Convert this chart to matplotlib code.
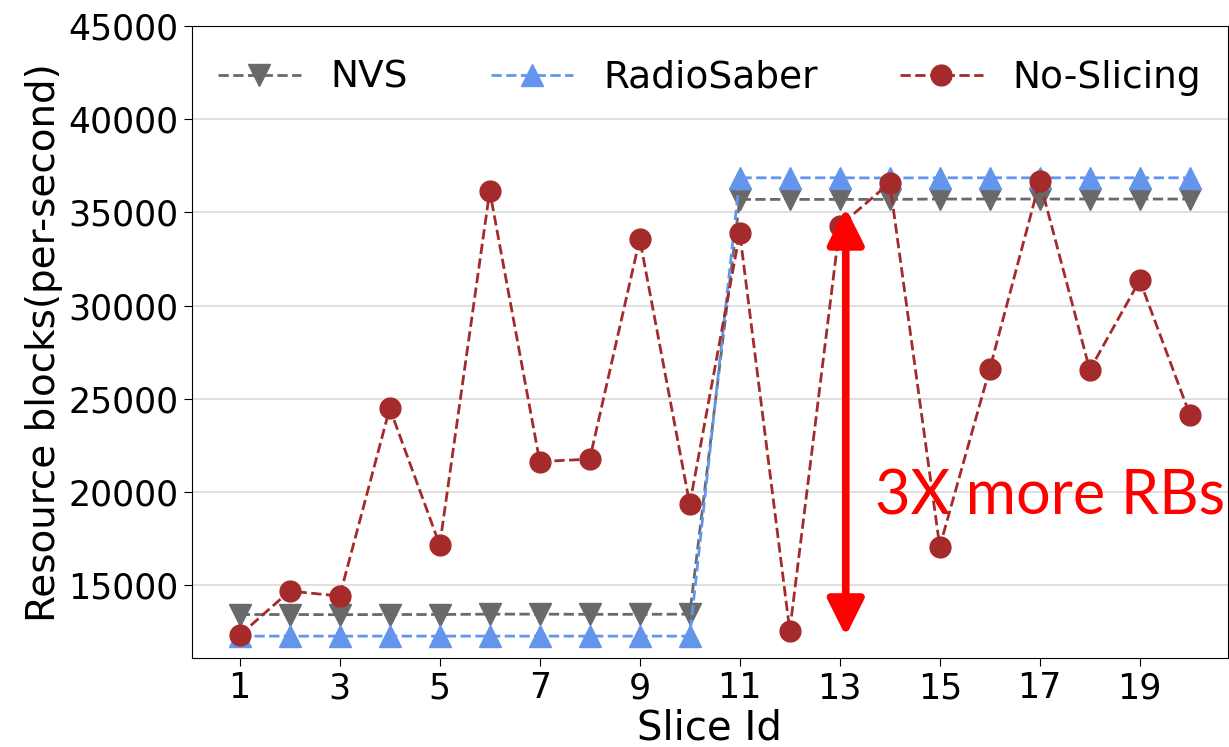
import numpy as np
import matplotlib.pyplot as plt

# slice ids and resource blocks per second for each scheme
slice_ids = np.arange(1, 21)
nvs = [13420, 13420, 13410, 13420, 13420, 13440, 13440, 13430, 13430, 13440,
       35700, 35700, 35700, 35700, 35720, 35720, 35720, 35720, 35720, 35720]
radiosaber = [12260, 12260, 12260, 12260, 12260, 12260, 12260, 12260, 12260, 12260,
              36860, 36860, 36860, 36850, 36860, 36860, 36860, 36860, 36860, 36860]
no_slicing = [12310, 14680, 14410, 24490, 17150, 36150, 21630, 21760, 33580, 19340,
              33900, 12560, 34280, 36590, 17060, 26600, 36680, 26550, 31360, 24150]
x_ticks = [1, 3, 5, 7, 9, 11, 13, 15, 17, 19]
y_ticks = [15000, 20000, 25000, 30000, 35000, 40000, 45000]

fig, ax = plt.subplots(figsize=(12.29, 7.47), dpi=100)
fig.subplots_adjust(left=0.156, right=0.999, top=0.965, bottom=0.119)

ax.plot(slice_ids, nvs, '--', color='dimgray', marker='v', markersize=16,
        linewidth=2, label='NVS')
ax.plot(slice_ids, radiosaber, '--', color='cornflowerblue', marker='^', markersize=16,
        linewidth=2, label='RadioSaber')
ax.plot(slice_ids, no_slicing, '--', color='brown', marker='o', markersize=15,
        linewidth=2, label='No-Slicing')

# highlight the gap between slicing and no-slicing
ax.annotate('', xy=(13.12, 12260), xytext=(13.12, 35250),
            arrowprops=dict(arrowstyle='<|-|>', color='red', lw=5.5, mutation_scale=55,
                            shrinkA=0, shrinkB=0))
ax.text(13.7, 19750, '3X more RBs', color='red', fontsize=44, va='center', ha='left',
        family=['Lato', 'DejaVu Sans'])

ax.set_xlim(0.04, 20.76)
ax.set_ylim(11080, 45000)
ax.set_xticks(x_ticks)
ax.set_yticks(y_ticks)
ax.tick_params(labelsize=25, length=6)
ax.yaxis.grid(True, color='#dddddd', linewidth=1.3)
ax.set_axisbelow(True)
ax.set_xlabel('Slice Id', fontsize=29, labelpad=2)
ax.set_ylabel('Resource blocks(per-second)', fontsize=28)

ax.legend(loc='upper center', ncol=3, frameon=False, fontsize=27,
          bbox_to_anchor=(0.5, 1.0), columnspacing=2.2, handlelength=2.2)

plt.savefig('out.png', dpi=100)
